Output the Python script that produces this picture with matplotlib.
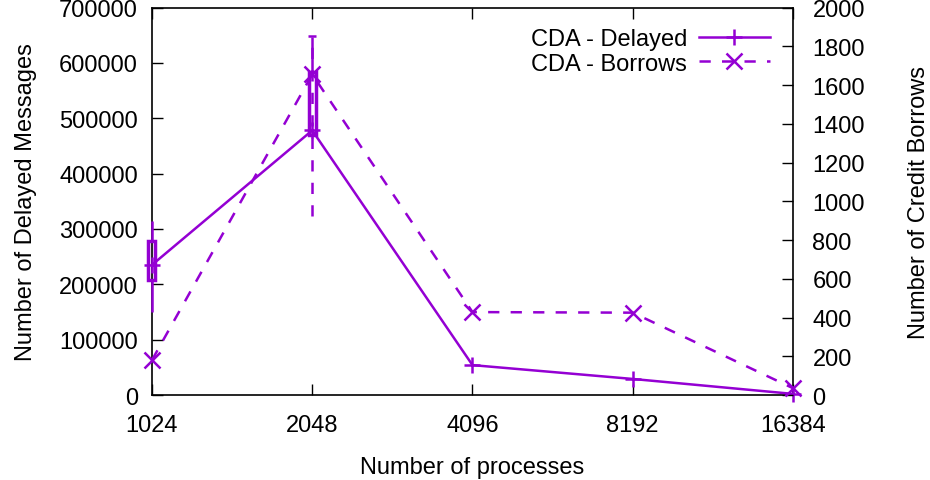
import matplotlib
matplotlib.use('Agg')
import matplotlib.pyplot as plt

plt.rcParams['font.family'] = ['Liberation Sans', 'DejaVu Sans']
plt.rcParams['font.size'] = 17

# Data
procs = [1024, 2048, 4096, 8192, 16384]
delayed = [235000, 478000, 54000, 29000, 2000]
borrows = [180, 1655, 428, 425, 35]

# candlestick boxes for delayed messages: x, box low, box high, whisker low, whisker high
box_x = [1024, 2048]
box_lo = [207000, 470000]
box_hi = [278000, 584000]
whisk_lo = [150000, 470000]
whisk_hi = [314000, 647000]

# error bar for borrows at 2048
err_x = [2048]
err_lo = [923]
err_hi = [1855]

color = '#9400d3'
dash = (0, (4.5, 4.5))

fig = plt.figure(figsize=(9.3, 4.81), dpi=100)
ax = fig.add_axes([0.1634, 0.1767, 0.8527 - 0.1634, 0.9823 - 0.1767])
ax2 = ax.twinx()

ax.set_xscale('log', base=2)
ax.set_xlim(1024, 16384)
ax.set_ylim(0, 700000)
ax2.set_ylim(0, 2000)

# delayed line
l1, = ax.plot(procs, delayed, color=color, lw=1.8, marker='+', ms=12, mew=1.8,
              label='CDA - Delayed', clip_on=False, zorder=3)

# candlestick boxes
hw = 0.022
for x, blo, bhi, wlo, whi in zip(box_x, box_lo, box_hi, whisk_lo, whisk_hi):
    left = x * 2 ** -hw
    width = x * (2 ** hw - 2 ** -hw)
    ax.bar(left, bhi - blo, width=width, bottom=blo, align='edge', fill=False,
           edgecolor=color, lw=2.5, zorder=3, clip_on=False)
    ax.vlines(x, wlo, blo, color=color, lw=1.8, zorder=3, clip_on=False)
    ax.vlines(x, bhi, whi, color=color, lw=1.8, zorder=3, clip_on=False)

# borrows line
l2, = ax2.plot(procs, borrows, color=color, lw=1.8, ls=dash, marker='x', ms=11,
               mew=1.8, label='CDA - Borrows', clip_on=False, zorder=3)
for x, lo, hi in zip(err_x, err_lo, err_hi):
    ax2.vlines(x, lo, hi, color=color, lw=1.8, linestyles=[dash], zorder=3)
    ax2.hlines(hi, x * 2 ** -0.025, x * 2 ** 0.025, color=color, lw=1.8, zorder=3)

ax.set_xticks(procs)
ax.set_xticklabels([str(p) for p in procs])
ax.minorticks_off()
ax.set_yticks(range(0, 700001, 100000))
ax2.set_yticks(range(0, 2001, 200))

ax.tick_params(axis='x', direction='in', length=8, width=1, pad=14, top=True)
ax.tick_params(axis='y', direction='in', length=8, width=1, pad=10)
ax2.tick_params(axis='y', direction='in', length=8, width=1, pad=14)
for s in ax.spines.values():
    s.set_linewidth(1.2)
for s in ax2.spines.values():
    s.set_visible(False)

ax.set_xlabel('Number of processes', labelpad=14)
ax.set_ylabel('Number of Delayed Messages', labelpad=16)
ax2.set_ylabel('Number of Credit Borrows', labelpad=31)

ax.legend(handles=[l1, l2], loc='upper right', bbox_to_anchor=(0.993, 0.995),
          frameon=False, markerfirst=False, handlelength=3.0, handletextpad=0.5,
          labelspacing=0.1, borderpad=0.3)

fig.savefig('out.png', dpi=100)
